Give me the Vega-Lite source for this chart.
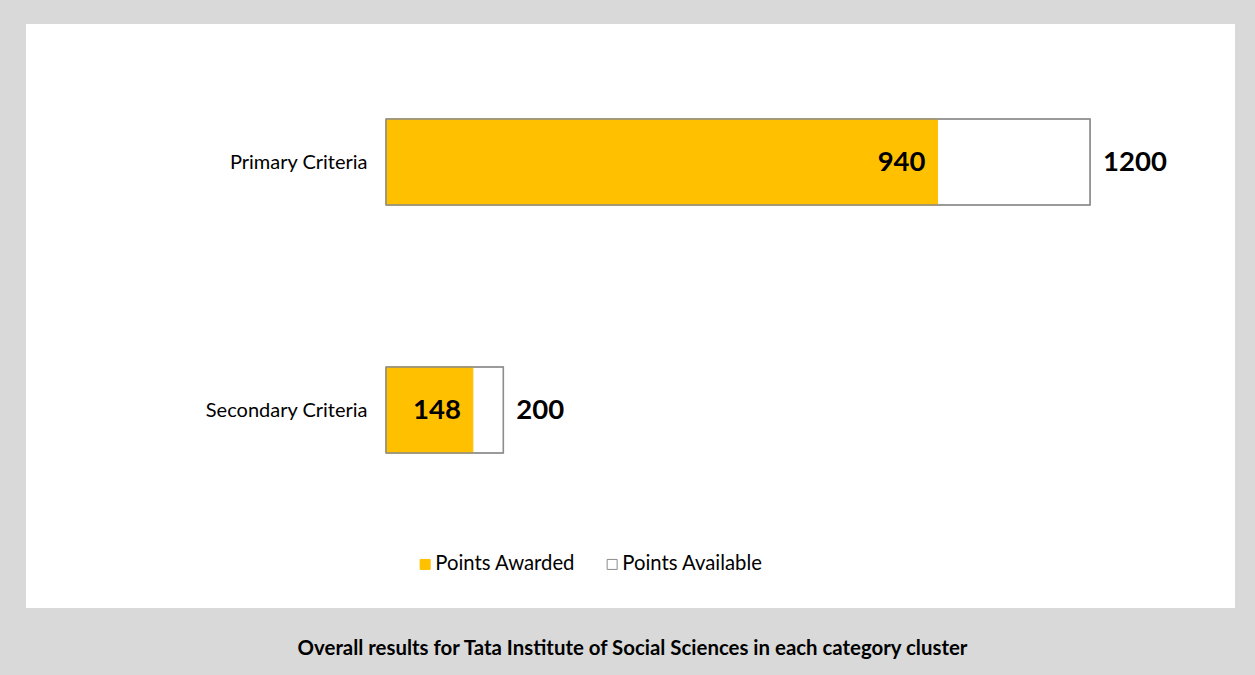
{
  "$schema": "https://vega.github.io/schema/vega-lite/v6.json",
  "width": 1209,
  "height": 584,
  "autosize": {"type": "none"},
  "padding": {"left": 26, "top": 24, "right": 20, "bottom": 67},
  "background": "#d9d9d9",
  "view": {"fill": "white", "stroke": null},
  "title": {
    "text": "Overall results for Tata Institute of Social Sciences in each category cluster",
    "orient": "bottom",
    "anchor": "middle",
    "offset": 31,
    "dx": 2,
    "font": "Lato",
    "fontSize": 20.4,
    "fontWeight": "bold",
    "color": "#000000"
  },
  "data": {
    "values": [
      {"criteria": "Primary Criteria", "awarded": 940, "available": 1200},
      {"criteria": "Secondary Criteria", "awarded": 148, "available": 200}
    ]
  },
  "encoding": {
    "y": {
      "field": "criteria",
      "type": "nominal",
      "sort": null,
      "title": null,
      "scale": {"paddingInner": 0.653, "paddingOuter": 0.504, "align": 0.38},
      "axis": {
        "offset": -360,
        "domain": false,
        "ticks": false,
        "labelPadding": 19,
        "labelFont": "Lato",
        "labelFontSize": 20,
        "labelColor": "#000000",
        "labelBaseline": "middle",
        "labelOffset": 1
      }
    }
  },
  "layer": [
    {
      "mark": {"type": "bar", "strokeWidth": 1},
      "encoding": {
        "x": {
          "field": "available",
          "type": "quantitative",
          "axis": null,
          "scale": {"domain": [-613.6, 1447], "zero": false, "nice": false}
        },
        "color": {
          "datum": "Points Available",
          "scale": {"domain": ["Points Awarded", "Points Available"], "range": ["#ffc000", "#ffffff"]}
        },
        "stroke": {
          "datum": "Points Available",
          "scale": {"domain": ["Points Awarded", "Points Available"], "range": ["#ffc000", "#8c8c8c"]}
        }
      }
    },
    {
      "mark": {"type": "bar", "strokeWidth": 1},
      "encoding": {
        "x": {"field": "awarded", "type": "quantitative"},
        "color": {"datum": "Points Awarded"},
        "stroke": {"datum": "Points Awarded"}
      }
    },
    {
      "mark": {"type": "bar", "fillOpacity": 0, "stroke": "#8c8c8c", "strokeWidth": 1.5},
      "encoding": {
        "x": {"field": "available", "type": "quantitative"}
      }
    },
    {
      "mark": {"type": "text", "align": "right", "baseline": "middle", "dx": -12, "dy": 1, "font": "Lato", "fontSize": 27.5, "fontWeight": "bold", "color": "#000000"},
      "encoding": {
        "x": {"field": "awarded", "type": "quantitative"},
        "text": {"field": "awarded", "type": "quantitative"}
      }
    },
    {
      "mark": {"type": "text", "align": "left", "baseline": "middle", "dx": 13, "dy": 1, "font": "Lato", "fontSize": 27.5, "fontWeight": "bold", "color": "#000000"},
      "encoding": {
        "x": {"field": "available", "type": "quantitative"},
        "text": {"field": "available", "type": "quantitative"}
      }
    }
  ],
  "resolve": {"scale": {"x": "shared"}},
  "config": {
    "legend": {
      "orient": "none",
      "legendX": 389,
      "legendY": 530,
      "direction": "horizontal",
      "title": null,
      "symbolType": "square",
      "symbolSize": 100,
      "symbolStrokeWidth": 1,
      "labelFont": "Lato",
      "labelFontSize": 20.3,
      "labelColor": "#000000",
      "labelOffset": 0,
      "columnPadding": 26
    }
  }
}
